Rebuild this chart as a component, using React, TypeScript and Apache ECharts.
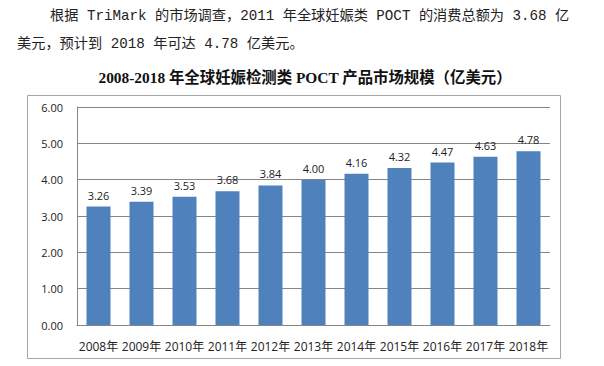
import React, { useEffect, useRef } from "react";
import * as echarts from "echarts";

const paragraphLines = [
  "根据 TriMark 的市场调查，2011 年全球妊娠类 POCT 的消费总额为 3.68 亿",
  "美元，预计到 2018 年可达 4.78 亿美元。",
];
const chartTitle = "2008-2018 年全球妊娠检测类 POCT 产品市场规模（亿美元）";
const years = ["2008年", "2009年", "2010年", "2011年", "2012年", "2013年", "2014年", "2015年", "2016年", "2017年", "2018年"];
const marketSize = [3.26, 3.39, 3.53, 3.68, 3.84, 4.0, 4.16, 4.32, 4.47, 4.63, 4.78];

const SERIF = '"Liberation Serif", "Noto Sans CJK SC", serif';
const MONO = '"Liberation Mono", "Noto Sans CJK SC", monospace';
const SANS = '"Open Sans", "Noto Sans CJK SC", sans-serif';

export default function App() {
  const ref = useRef<HTMLDivElement>(null);
  useEffect(() => {
    if (!ref.current) return;
    const chart = echarts.init(ref.current, undefined, { renderer: "svg" });
    chart.setOption({
      animation: false,
      backgroundColor: "#ffffff",
      graphic: [
        {
          type: "rect",
          z: -1,
          shape: { x: 27.5, y: 95.5, width: 533, height: 263 },
          style: { fill: "#ffffff", stroke: "#a6a6a6", lineWidth: 1 },
        },
        {
          type: "text",
          x: 50,
          y: 16,
          style: { text: paragraphLines[0], font: `14.2px ${MONO}`, fill: "#222", verticalAlign: "middle" },
        },
        {
          type: "text",
          x: 17,
          y: 44,
          style: { text: paragraphLines[1], font: `14.2px ${MONO}`, fill: "#222", verticalAlign: "middle" },
        },
        {
          type: "text",
          x: 305,
          y: 77,
          style: { text: chartTitle, font: `bold 15.4px ${SERIF}`, fill: "#111", align: "center", verticalAlign: "middle" },
        },
      ],
      grid: { left: 77, right: 54, top: 107, bottom: 41, containLabel: false },
      xAxis: {
        type: "category",
        data: years,
        axisLine: { show: true, lineStyle: { color: "#868686", width: 1 } },
        axisTick: { show: false },
        axisLabel: { interval: 0, color: "#222", fontSize: 12, fontFamily: SANS, margin: 15 },
      },
      yAxis: {
        type: "value",
        min: 0,
        max: 6,
        interval: 1,
        axisLine: { show: true, lineStyle: { color: "#868686", width: 1 } },
        axisTick: { show: false },
        axisLabel: { color: "#222", fontSize: 11, fontFamily: SANS, margin: 14, formatter: (v: number) => v.toFixed(2) },
        splitLine: { show: true, lineStyle: { color: "#868686", width: 1 } },
      },
      series: [
        {
          type: "bar",
          data: marketSize,
          barWidth: 24,
          itemStyle: { color: "#4f81bd" },
          label: {
            show: true,
            position: "top",
            distance: 6,
            color: "#222",
            fontSize: 11,
            fontFamily: SANS,
            formatter: (p: any) => Number(p.value).toFixed(2),
          },
        },
      ],
    });
    return () => chart.dispose();
  }, []);
  return <div ref={ref} style={{ position: "absolute", left: 0, top: 0, width: 604, height: 366 }} />;
}
